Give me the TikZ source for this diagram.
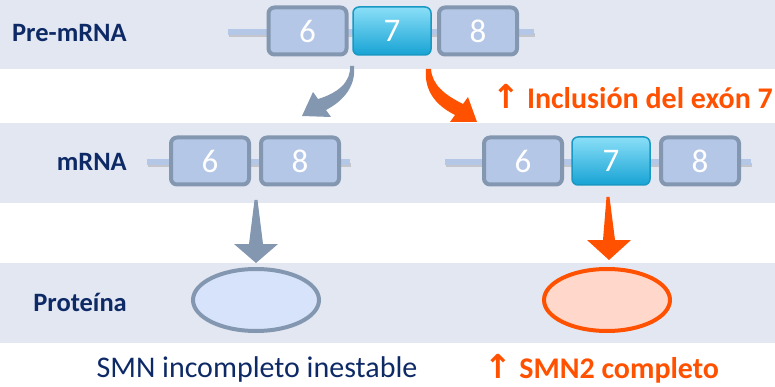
\documentclass[tikz,border=0pt]{standalone}
\usepackage{fontspec}
\setmainfont{Carlito}
\newfontfamily\arrowfont{DejaVu Sans}
\newcommand\myuparrow{{\arrowfont\fontsize{33}{30}\selectfont ↑}}
\usetikzlibrary{shapes.geometric}
\definecolor{band}{HTML}{E3E7F2}
\definecolor{navy}{HTML}{0E2A66}
\definecolor{exfill}{HTML}{B4C7E7}
\definecolor{exdraw}{HTML}{8497B0}
\definecolor{cyanT}{HTML}{8ADFF8}
\definecolor{cyanB}{HTML}{17A3D4}
\definecolor{cyanD}{HTML}{1898C2}
\definecolor{orng}{HTML}{FF5100}
\definecolor{pfill}{HTML}{D6E3FA}
\definecolor{ofill}{HTML}{FFD8CB}
\tikzset{
  lbl/.style={font=\bfseries\fontsize{26.5}{28}\selectfont, text=navy, anchor=east, inner sep=0pt},
  exon/.style={draw=exdraw, fill=exfill, line width=4pt, rounded corners=6pt, minimum width=78pt, minimum height=47pt, inner sep=0pt, text=white, font=\fontsize{33}{35}\selectfont},
  exonB/.style={draw=cyanD, top color=cyanT, bottom color=cyanB, line width=1.5pt, rounded corners=6pt, minimum width=78pt, minimum height=48pt, inner sep=0pt, text=white, font=\fontsize{33}{35}\selectfont},
  rna/.style={draw=exfill, line width=6pt},
  rnashadow/.style={draw=black!35, line width=4pt, opacity=0.5},
  prot/.style={ellipse, line width=4pt, minimum width=126pt, minimum height=62pt, inner sep=0pt},
  otext/.style={font=\bfseries\fontsize{30}{32}\selectfont, text=orng, inner sep=0pt},
}
\begin{document}
\begin{tikzpicture}[x=1pt,y=-1pt]
\useasboundingbox (0,0) rectangle (775,387);
% bands
\fill[band] (0,0) rectangle (775,69);
\fill[band] (0,123) rectangle (775,203);
\fill[band] (0,263) rectangle (775,343);
% labels
\node[lbl] (lpre) at (127,33) {Pre-mRNA};
\node[lbl] (lm) at (127,162) {mRNA};
\node[lbl] (lp) at (127,302) {Proteína};
% pre-mRNA
\coordinate (p0) at (228,32);
\coordinate (p1) at (534,32);
\draw[rnashadow] ([shift={(1,3)}]p0) -- ([shift={(1,3)}]p1);
\draw[rna] (p0) -- (p1);
\node[exon] (a6) at (307.5,31) {6};
\node[exonB] (a7) at (392,31) {7};
\node[exon] (a8) at (478,31) {8};
% mRNA left
\coordinate (m0) at (147,162);
\coordinate (m1) at (350,162);
\draw[rnashadow] ([shift={(1,3)}]m0) -- ([shift={(1,3)}]m1);
\draw[rna] (m0) -- (m1);
\node[exon] (b6) at (210,161) {6};
\node[exon] (b8) at (300,161) {8};
% mRNA right
\coordinate (n0) at (445,162);
\coordinate (n1) at (751,162);
\draw[rnashadow] ([shift={(1,3)}]n0) -- ([shift={(1,3)}]n1);
\draw[rna] (n0) -- (n1);
\node[exon] (c6) at (523,161) {6};
\node[exonB] (c7) at (611,161) {7};
\node[exon] (c8) at (700,161) {8};
% curved arrows
\fill[exdraw] (350,66) .. controls (351,82) and (338,93) .. (318,99) -- (313,92) -- (302,116) -- (331,117) -- (326,110) .. controls (345,100) and (356,85) .. (354,66) -- cycle;
\fill[orng] (426,69) .. controls (424,90) and (435,105) .. (455,115) -- (450,122) -- (477,122) -- (468,97) -- (463,104) .. controls (445,95) and (432,85) .. (431,69) -- cycle;
\node[otext, anchor=east] (incl) at (773,97) {\myuparrow{} Inclusión del exón 7};
% down arrows
\fill[exdraw] (254.5,200) -- (257.5,200) -- (263,244) -- (278,244) -- (256,263) -- (234,244) -- (249,244) -- cycle;
\fill[orng] (606.5,197) -- (609.5,197) -- (615,240) -- (631,240) -- (609,260) -- (587,240) -- (603,240) -- cycle;
% proteins
\node[prot, draw=exdraw, fill=pfill] (e1) at (256,300) {};
\node[prot, draw=orng, fill=ofill] (e2) at (607,300) {};
% bottom texts
\node[font=\fontsize{30}{32}\selectfont, text=navy, inner sep=0pt] (t1) at (257,369) {SMN incompleto inestable};
\node[otext] (t2) at (602,369) {\myuparrow{} SMN2 completo};
\end{tikzpicture}
\end{document}
